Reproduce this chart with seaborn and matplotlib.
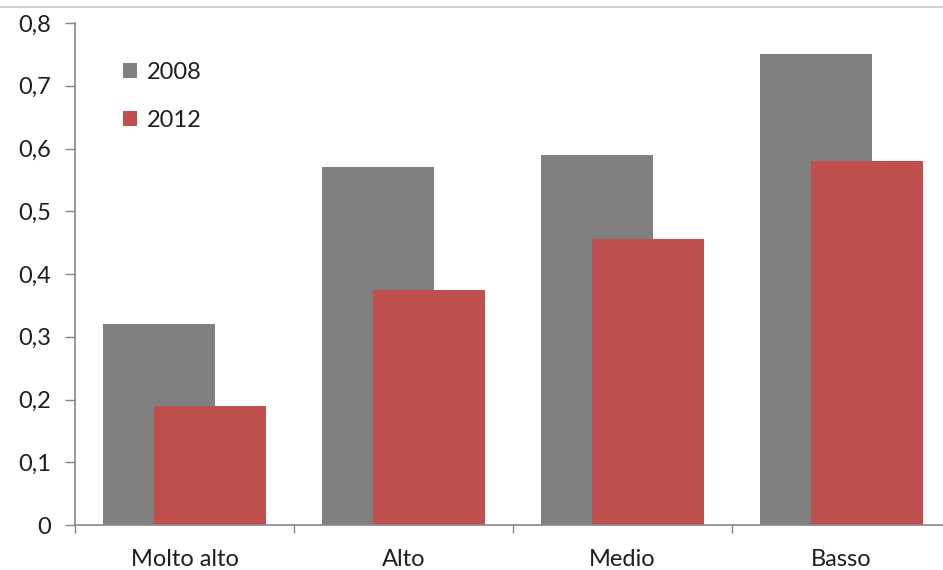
import matplotlib
matplotlib.use("Agg")
import matplotlib.pyplot as plt
import matplotlib.ticker as mticker
from matplotlib.lines import Line2D
from matplotlib.patches import Patch
import numpy as np
import pandas as pd
import seaborn as sns

categories = ["Molto alto", "Alto", "Medio", "Basso"]
values_2008 = [0.32, 0.57, 0.59, 0.75]
values_2012 = [0.19, 0.375, 0.455, 0.58]
series_labels = ["2008", "2012"]
y_ticks = [0, 0.1, 0.2, 0.3, 0.4, 0.5, 0.6, 0.7, 0.8]

GREY = "#808080"
RED = "#c0504d"
AXIS = "#868686"
TEXT = "#1e1e1e"
FS = 17

sns.set_theme(style="white")
plt.rcParams["font.family"] = ["Lato", "DejaVu Sans"]

W, H = 943, 570
x0, x1 = 75, 951      # plot area runs slightly past the right edge
y0, y1 = 525, 23
fig = plt.figure(figsize=(W / 100, H / 100), dpi=100)
ax = fig.add_axes([x0 / W, 1 - y0 / H, (x1 - x0) / W, (y0 - y1) / H])

pos = np.arange(len(categories))
offset = 0.1164
bar_w = 0.507

df08 = pd.DataFrame({"x": pos - offset, "y": values_2008})
df12 = pd.DataFrame({"x": pos + offset, "y": values_2012})
sns.barplot(data=df08, x="x", y="y", native_scale=True, width=bar_w,
            color=GREY, saturation=1, edgecolor="none", ax=ax)
sns.barplot(data=df12, x="x", y="y", native_scale=True, width=bar_w,
            color=RED, saturation=1, edgecolor="none", ax=ax)

ax.set_xlim(-0.5, len(categories) - 0.5)
ax.set_ylim(0, 0.8)
ax.set_xlabel("")
ax.set_ylabel("")

# Tick marks at category boundaries, labels at category centres
ax.xaxis.set_major_locator(mticker.FixedLocator(np.arange(len(categories) + 1) - 0.5))
ax.xaxis.set_major_formatter(mticker.NullFormatter())
ax.xaxis.set_minor_locator(mticker.FixedLocator(pos))
ax.xaxis.set_minor_formatter(mticker.FixedFormatter(categories))
ax.tick_params(axis="x", which="major", direction="out", length=6, width=1,
               color=AXIS, bottom=True)
ax.tick_params(axis="x", which="minor", length=0, pad=17, labelsize=FS,
               labelcolor=TEXT)

ax.set_yticks(y_ticks)
ax.set_yticklabels([f"{t:g}".replace(".", ",") for t in y_ticks])
ax.tick_params(axis="y", direction="out", length=7, width=1, color=AXIS,
               left=True, pad=10, labelsize=FS, labelcolor=TEXT)

for side in ["top", "right"]:
    ax.spines[side].set_visible(False)
for side in ["left", "bottom"]:
    ax.spines[side].set_color(AXIS)
    ax.spines[side].set_linewidth(1.2)
ax.grid(False)

handles = [Patch(facecolor=GREY, edgecolor="none"),
           Patch(facecolor=RED, edgecolor="none")]
ax.legend(handles, series_labels, loc="upper left",
          bbox_to_anchor=((123 - x0) / (x1 - x0), (y0 - 62) / (y0 - y1)),
          frameon=False, fontsize=FS, borderpad=0, borderaxespad=0,
          handlelength=0.6, handleheight=0.6, handletextpad=0.4,
          labelspacing=1.15, labelcolor=TEXT)

# thin border line across the top of the chart area
fig.add_artist(Line2D([0, 1], [1 - 7 / H, 1 - 7 / H], color="#c8c8c8",
                      linewidth=1.2, transform=fig.transFigure))

fig.savefig("out.png", dpi=100)
